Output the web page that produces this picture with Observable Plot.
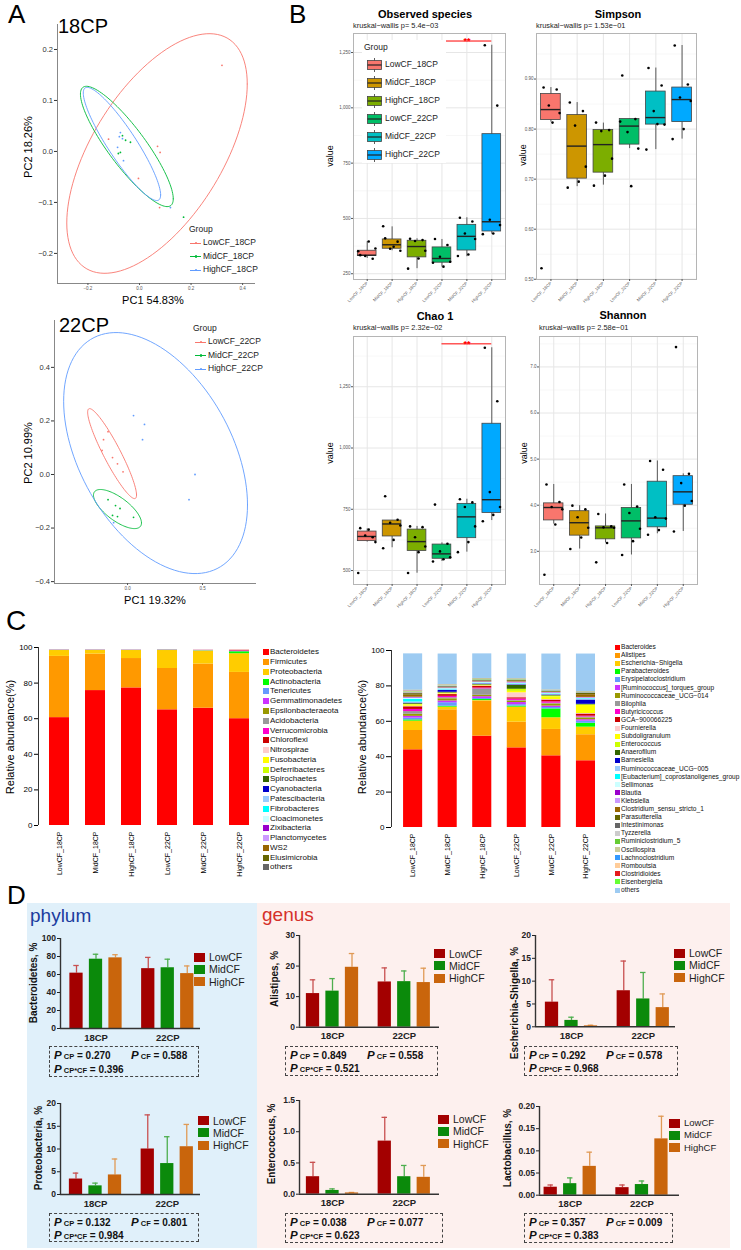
<!DOCTYPE html>
<html><head><meta charset="utf-8">
<script src="https://cdn.jsdelivr.net/npm/d3@7"></script>
<script src="https://cdn.jsdelivr.net/npm/@observablehq/plot@0.6"></script>
<style>
body{margin:0;background:#fff;}
#fig{position:relative;width:741px;height:1250px;overflow:hidden;background:#fff;font-family:'Liberation Sans',Arial,Helvetica,sans-serif;}
.t{position:absolute;white-space:nowrap;line-height:1.15;}
</style></head><body><div id="fig"></div>
<script>
// ================= DATA =================
// Panel A – PCoA
const pcaGroups18 = ["LowCF_18CP","MidCF_18CP","HighCF_18CP"];
const pcaGroups22 = ["LowCF_22CP","MidCF_22CP","HighCF_22CP"];
const pcaColors = ["#F8766D","#00BA38","#619CFF"];
const pca18X = [0.32,0.07,0.08,-0.004,0.078,-0.12, -0.066,-0.054,-0.035,-0.074,-0.082,0.171, -0.074,-0.078,-0.085,-0.062,0.12,-0.066];
const pca18Y = [0.169,0.01,-0.002,-0.053,-0.11,0.024, 0.031,0.022,0.018,-0.002,-0.004,-0.129, 0.037,0.029,0.008,-0.018,-0.11,0.025];
const pca18G = [0,0,0,0,0,0,1,1,1,1,1,1,2,2,2,2,2,2];
const ell18 = {cx:[0.068,-0.049,-0.068], cy:[-0.004,0.0098,0.0147], sx:[0.35,0.18,0.15], sy:[0.235,0.118,0.111], rho:[0.58,-0.87,-0.9]};
const pca22X = [-0.13,-0.16,-0.17,-0.1,-0.067,-0.03, -0.13,-0.08,-0.05,-0.1,-0.067,0.04, 0.04,0.113,0.1,0.45,0.41,-0.093];
const pca22Y = [0.16,0.13,0.09,0.063,0.04,0.01, -0.094,-0.116,-0.127,-0.153,-0.157,-0.16, 0.22,0.187,0.13,0.0,-0.094,-0.18];
const pca22G = [0,0,0,0,0,0,1,1,1,1,1,1,2,2,2,2,2,2];
const ell22 = {cx:[-0.103,-0.067,0.187], cy:[0.078,-0.129,0.08], sx:[0.163,0.16,0.613], sy:[0.168,0.073,0.45], rho:[-0.92,-0.71,-0.43]};

// Panel B – alpha diversity
const groupsB = ["LowCF_18CP","MidCF_18CP","HighCF_18CP","LowCF_22CP","MidCF_22CP","HighCF_22CP"];
const colorsB = ["#F8766D","#CD9600","#7CAE00","#00BE67","#00BFC4","#00A9FF"];
const obsQ1 = [330,363,324,300,355,441], obsMed = [334,381,373,319,419,485], obsQ3 = [354,405,399,369,471,881];
const obsLo = [319,354,273,280,327,429], obsHi = [395,462,408,405,503,1283];
const obsPts = [[334,318,330,364,396,352],[410,395,363,354,372,465],[408,402,398,354,319,273],[407,380,327,304,282,300],[503,486,432,407,337,330],[1283,1010,494,470,432,429]];
const simQ1 = [0.818,0.701,0.713,0.769,0.809,0.814], simMed = [0.839,0.766,0.769,0.806,0.823,0.859], simQ3 = [0.870,0.828,0.798,0.820,0.875,0.883];
const simLo = [0.814,0.685,0.688,0.761,0.759,0.780], simHi = [0.883,0.853,0.812,0.820,0.922,0.967];
const simPts = [[0.883,0.879,0.847,0.832,0.813,0.522],[0.853,0.836,0.807,0.725,0.695,0.683],[0.813,0.798,0.796,0.741,0.707,0.687],[0.907,0.820,0.794,0.761,0.686,0.815],[0.922,0.887,0.836,0.809,0.810,0.759],[0.967,0.889,0.863,0.856,0.800,0.780]];
const chaoQ1 = [620,639,580,548,632,735], chaoMed = [639,690,618,568,719,789], chaoQ3 = [659,704,667,606,772,1099];
const chaoLo = [616,593,489,537,575,704], chaoHi = [670,704,680,613,791,1409];
const chaoPts = [[673,636,643,616,667,490],[803,707,695,684,625,591],[680,677,636,598,575,490],[769,609,578,554,546,537],[791,778,759,680,616,575],[1409,1191,820,759,727,701]];
const shQ1 = [3.67,3.34,3.26,3.28,3.52,4.01], shMed = [3.95,3.62,3.51,3.66,3.72,4.29], shQ3 = [4.04,3.87,3.54,3.94,4.51,4.63];
const shLo = [3.59,3.05,3.18,2.92,3.38,3.43], shHi = [4.45,3.99,3.81,4.45,4.96,4.68];
const shPts = [[4.45,4.07,3.96,3.91,3.58,2.49],[3.99,3.91,3.74,3.51,3.30,3.05],[3.81,3.54,3.52,3.51,3.18,2.76],[4.45,3.97,3.83,3.49,3.22,2.92],[4.96,4.77,3.74,3.71,3.46,3.36],[7.43,4.68,4.48,4.09,3.99,3.43]];
const obsSig = {from:4, to:6, y:1302, label:"**"};
const chaoSig = {from:4, to:6, y:1425, label:"**"};

// Panel C – relative abundance
const phylumTaxa = ["Bacteroidetes","Firmicutes","Proteobacteria","Actinobacteria","Tenericutes","Gemmatimonadetes","Epsilonbacteraeota","Acidobacteria","Verrucomicrobia","Chloroflexi","Nitrospirae","Fusobacteria","Deferribacteres","Spirochaetes","Cyanobacteria","Patescibacteria","Fibrobacteres","Cloacimonetes","Zixibacteria","Planctomycetes","WS2","Elusimicrobia","others"];
const phylumColors = ["#FF0000","#FF9900","#FFCC00","#00FF00","#6699FF","#CC33FF","#999900","#999999","#FF00CC","#CC0000","#FFCCCC","#FFFF00","#CCFF00","#336600","#0000CC","#99CCFF","#00FFFF","#CCFFFF","#9900CC","#CC99FF","#996600","#666600","#666666"];
const phylumAbund = [
 [60.6,75.8,77.3,65.0,65.9,60.0],[34.4,20.5,16.5,23.2,24.8,26.0],[3.3,2.0,4.5,10.1,7.3,10.5],[0.05,0.05,0.05,0.1,0.1,1.1],
 [0.1,0.1,0.1,0.1,0.1,0.1],[0,0,0,0,0,0.05],[0,0,0,0,0,0],[0.1,0.1,0.05,0.1,0.2,0.1],[0.05,0.05,0.05,0.05,0.05,0.3],[0.05,0.05,0.05,0.05,0.05,0.3],
 [0,0,0,0,0,0],[0,0,0,0,0,0],[0,0,0,0,0,0],[0,0,0,0,0,0],[0,0,0,0,0,0],[0,0,0,0,0,0],[0,0,0,0,0,0],[0,0,0,0,0,0],[0,0,0,0,0,0],[0,0,0,0,0,0],[0,0,0,0,0,0],[0,0,0,0,0,0],[0,0,0,0,0,0]];
const genusTaxa = ["Bacteroides","Alistipes","Escherichia−Shigella","Parabacteroides","Erysipelatoclostridium","[Ruminococcus]_torques_group","Ruminococcaceae_UCG−014","Bilophila","Butyricicoccus","GCA−900066225","Fournierella","Subdoligranulum","Enterococcus","Anaerofilum","Barnesiella","Ruminococcaceae_UCG−005","[Eubacterium]_coprostanoligenes_group","Sellimonas","Blautia","Klebsiella","Clostridium_sensu_stricto_1","Parasutterella","Intestinimonas","Tyzzerella","Ruminiclostridium_5","Oscillospira","Lachnoclostridium","Romboutsia","Clostridioides","Eisenbergiella","others"];
const genusColors = ["#FF0000","#FF9900","#FFCC00","#00FF00","#6699FF","#CC33FF","#999900","#999999","#FF00CC","#CC0000","#FFCCCC","#FFFF00","#CCFF00","#336600","#0000CC","#99CCFF","#00FFFF","#CCFFFF","#9900CC","#CC99FF","#996600","#666600","#666666","#CCCCCC","#66CC33","#CCCC99","#3399FF","#FFCC99","#E41A1C","#66FF33","#9DCBF2"];
const genusAbund = [
 [43.9,54.8,51.6,45.0,40.5,37.7],[10.9,11.7,19.8,14.5,14.9,14.7],[5.3,1.5,0.3,8.5,6.6,4.3],[0.7,0.5,0.6,0.6,5.0,2.2],
 [1.0,2.0,0.6,0.8,0.8,1.2],[1.0,1.0,1.0,1.2,0.8,0.8],[1.2,1.2,0.8,0.8,1.2,1.0],[1.5,0.6,3.6,0.4,0.4,0.5],
 [1.2,0.8,0.5,0.8,0.8,0.5],[1.5,1.0,1.0,0.7,1.0,1.2],[0.3,0.3,0.2,2.8,0.3,0.3],[0.8,0.5,0.3,0.8,1.5,4.5],
 [0.3,0.1,0.2,1.2,0.5,0.4],[0.4,0.4,0.3,2.2,0.3,0.3],[0.3,1.0,0.3,0.3,0.3,2.4],[0.6,0.4,0.3,0.3,0.3,0.5],
 [1.5,0.4,0.2,0.3,0.3,0.3],[0.6,0.3,0.3,0.2,0.2,0.2],[0.3,0.2,0.2,0.2,0.2,0.2],[0.3,0.2,0.2,0.6,0.3,0.3],
 [1.2,0.2,0.3,0.4,0.3,1.5],[0.8,0.3,0.3,0.4,0.3,0.7],[0.4,0.3,0.3,0.2,0.2,0.3],[0.3,0.3,0.2,0.2,0.1,0.2],
 [0.3,0.1,0.3,0.2,0.1,0.1],[0.3,0.1,0.1,0.1,0.1,0.1],[0.2,0.1,0.1,0.1,0.1,0.1],[0.2,0.2,0.1,0.1,0.1,0.1],
 [0.2,0.1,0.1,0.1,0.1,0.1],[0.1,0.1,0.1,0.1,0.1,0.1],[20.5,17.3,13.9,13.9,20.3,21.2]];

// Panel D – mean ± SD
const cfNames = ["LowCF","MidCF","HighCF"];
const cpNames = ["18CP","22CP"];
const cfColors = ["#A30000","#0B8A0B","#C9650C"];
const cfErrColors = ["#C85050","#4EAE4E","#E09A55"];
const bactMean = [61.5,77,78.5,66.5,67.5,61], bactSD = [8.5,5.5,3.5,12.5,9.5,8.5], bactP = [0.270,0.588,0.396];
const proteoMean = [3.4,1.9,4.3,10,6.8,10.5], proteoSD = [1.3,0.6,3.5,7.5,5.9,4.9], proteoP = [0.132,0.801,0.984];
const alistMean = [11,11.8,19.6,14.8,14.9,14.6], alistSD = [4.5,4.1,4.5,4.6,3.5,4.7], alistP = [0.849,0.558,0.521];
const eschMean = [5.4,1.4,0.2,7.9,6.1,4.2], eschSD = [4.9,0.7,0.15,6.5,5.8,3.0], eschP = [0.292,0.578,0.968];
const entMean = [0.28,0.06,0.02,0.85,0.28,0.27], entSD = [0.23,0.025,0.008,0.38,0.18,0.19], entP = [0.038,0.077,0.623];
const lactMean = [0.018,0.026,0.065,0.017,0.024,0.127], lactSD = [0.005,0.013,0.032,0.006,0.008,0.051], lactP = [0.357,0.009,0.383];

// ================= HELPERS =================
const fig = document.getElementById("fig");
const FONT = "'Liberation Sans', Arial, Helvetica, sans-serif";
function T(x, y, s, o = {}) {
  const d = document.createElement("div");
  d.className = "t";
  if (o.html) d.innerHTML = s; else d.textContent = s;
  const a = o.anchor || "start";
  const tx = a === "start" ? "0" : a === "middle" ? "-50%" : "-100%";
  d.style.left = x + "px"; d.style.top = y + "px";
  d.style.fontSize = (o.size || 10) + "px";
  d.style.fontWeight = o.weight || "normal";
  d.style.color = o.color || "#000";
  if (o.italic) d.style.fontStyle = "italic";
  d.style.transform = `translate(${tx},-50%)` + (o.rot ? ` rotate(${o.rot}deg)` : "");
  fig.appendChild(d); return d;
}
function box(x, y, w, h, css) {
  const d = document.createElement("div");
  d.style.cssText = `position:absolute;left:${x}px;top:${y}px;width:${w}px;height:${h}px;` + css;
  fig.appendChild(d); return d;
}
function P(frame, pad, opts, extraStyle = "") {
  const [x0, y0, x1, y1] = frame, [pt, pr, pb, pl] = pad;
  const svg = Plot.plot({
    width: x1 - x0 + pl + pr, height: y1 - y0 + pt + pb,
    marginTop: pt, marginRight: pr, marginBottom: pb, marginLeft: pl,
    style: `position:absolute;left:${x0 - pl}px;top:${y0 - pt}px;background:transparent;overflow:visible;font-family:${FONT};max-width:none;` + extraStyle,
    ...opts
  });
  fig.appendChild(svg);
  return svg;
}

// backgrounds for panel D
box(27, 903, 230, 345, "background:#E0F0FA;");
box(257, 903, 473, 345, "background:#FDF0EE;");

// ================= PANEL A =================
function ellipse(e, k) {
  return d3.range(0, 121).map(i => {
    const t = i / 120 * 2 * Math.PI;
    return {x: e.cx[k] + e.sx[k] * Math.cos(t), y: e.cy[k] + e.sy[k] * (e.rho[k] * Math.cos(t) + Math.sqrt(1 - e.rho[k] ** 2) * Math.sin(t)), c: pcaColors[k], k};
  });
}
function pca(frame, xdom, ydom, X, Y, G, ell, xt, yt) {
  const pts = X.map((x, i) => ({x, y: Y[i], c: pcaColors[G[i]]}));
  const ells = [0, 1, 2].flatMap(k => ellipse(ell, k));
  P(frame, [6, 6, 14, 32], {
    x: {domain: xdom, axis: null}, y: {domain: ydom, axis: null}, color: {type: "identity"},
    marks: [
      Plot.line(ells, {x: "x", y: "y", z: "k", stroke: "c", strokeWidth: 0.9}),
      Plot.dot(pts, {x: "x", y: "y", r: 0.9, fill: "c"}),
      Plot.ruleX([xdom[0]], {stroke: "#888", strokeWidth: 1}),
      Plot.ruleY([ydom[0]], {stroke: "#888", strokeWidth: 1}),
      Plot.axisY({ticks: yt, tickFormat: d3.format(".1f"), tickSize: 3, tickPadding: 1.5, fontSize: 7.5, color: "#333", label: null}),
      Plot.axisX({ticks: xt, tickFormat: d3.format(".1f"), tickSize: 2, tickPadding: 1, fontSize: 4.5, color: "#555", label: null})
    ]
  });
}
pca([57, 24, 255, 283], [-0.318, 0.45], [-0.259, 0.249], pca18X, pca18Y, pca18G, ell18, [-0.2, 0, 0.2, 0.4], [-0.2, -0.1, 0, 0.1, 0.2]);
pca([54, 320, 256, 583], [-0.487, 0.86], [-0.407, 0.575], pca22X, pca22Y, pca22G, ell22, [0, 0.5], [-0.4, -0.2, 0, 0.2, 0.4]);

T(8, 15, "A", {size: 26});
T(58, 26, "18CP", {size: 20});
T(59, 325, "22CP", {size: 20});
T(28, 147, "PC2 18.26%", {size: 11, anchor: "middle", rot: -90});
T(153, 300, "PC1 54.83%", {size: 11, anchor: "middle"});
T(28, 453, "PC2 10.99%", {size: 11, anchor: "middle", rot: -90});
T(155, 600, "PC1 19.32%", {size: 11, anchor: "middle"});
function pcaLegend(x, y, groups, lineX) {
  T(x, y, "Group", {size: 8.5, color: "#222"});
  groups.forEach((g, k) => {
    const yy = y + 13 + k * 13.5;
    box(lineX, yy - 0.5, 11, 1, `background:${pcaColors[k]};`);
    box(lineX + 4.5, yy - 1.5, 2.5, 2.5, `background:${pcaColors[k]};border-radius:1px;`);
    T(lineX + 13, yy, g, {size: 8.5, color: "#222"});
  });
}
pcaLegend(189, 230, pcaGroups18, 190);
pcaLegend(193, 329, pcaGroups22, 195);

// ================= PANEL B =================
const jitterB = [-0.28, 0.22, -0.08, 0.33, 0.06, -0.36];
function boxChart(frame, dom, Q1, MED, Q3, LO, HI, PTS, major, minor, sig) {
  const rows = groupsB.map((g, i) => ({i: i + 1, color: colorsB[i], q1: Q1[i], med: MED[i], q3: Q3[i], lo: LO[i], hi: HI[i]}));
  const pts = PTS.flatMap((arr, i) => arr.map((v, j) => ({x: i + 1 + jitterB[j], v})));
  const marks = [
    Plot.gridY(minor, {stroke: "#EEEEEE", strokeOpacity: 1, strokeWidth: 0.5}),
    Plot.gridY(major, {stroke: "#E6E6E6", strokeOpacity: 1, strokeWidth: 1}),
    Plot.gridX([1, 2, 3, 4, 5, 6], {stroke: "#E6E6E6", strokeOpacity: 1, strokeWidth: 1}),
    Plot.ruleX(rows, {x: "i", y1: "lo", y2: "hi", stroke: "#333", strokeWidth: 0.8}),
    Plot.rect(rows, {x1: d => d.i - 0.375, x2: d => d.i + 0.375, y1: "q1", y2: "q3", fill: "color", stroke: "#444", strokeWidth: 0.8}),
    Plot.ruleY(rows, {y: "med", x1: d => d.i - 0.375, x2: d => d.i + 0.375, stroke: "#222", strokeWidth: 1.4}),
    Plot.dot(pts, {x: "x", y: "v", r: 1.3, fill: "#000"}),
    Plot.frame({stroke: "#B5B5B5"}),
    Plot.axisY({ticks: major, tickSize: 2, tickPadding: 1, fontSize: 4.5, color: "#555", label: null}),
    Plot.axisX({ticks: [1, 2, 3, 4, 5, 6], tickFormat: i => groupsB[i - 1], tickRotate: -45, tickSize: 2, tickPadding: 1, fontSize: 4.3, color: "#555", label: null})
  ];
  if (sig) {
    marks.push(Plot.ruleY([sig], {y: "y", x1: "from", x2: "to", stroke: "#FF0000", strokeWidth: 1}));
    marks.push(Plot.text([sig], {x: d => (d.from + d.to) / 2, y: "y", text: "label", fill: "#FF0000", fontSize: 9, fontWeight: "bold"}));
  }
  P(frame, [4, 4, 30, 22], {x: {domain: [0.45, 6.55], axis: null}, y: {domain: dom, axis: null}, color: {type: "identity"}, marks});
}
boxChart([353, 33, 505, 279], [224, 1336], obsQ1, obsMed, obsQ3, obsLo, obsHi, obsPts, [250, 500, 750, 1000, 1250], [375, 625, 875, 1125], obsSig);
boxChart([536, 33, 696, 279], [0.4995, 0.991], simQ1, simMed, simQ3, simLo, simHi, simPts, [0.5, 0.6, 0.7, 0.8, 0.9], [0.55, 0.65, 0.75, 0.85, 0.95], null);
boxChart([353, 336, 505, 584], [443, 1455], chaoQ1, chaoMed, chaoQ3, chaoLo, chaoHi, chaoPts, [500, 750, 1000, 1250], [625, 875, 1125, 1375], chaoSig);
boxChart([539, 336, 697, 584], [2.28, 7.66], shQ1, shMed, shQ3, shLo, shHi, shPts, [3, 4, 5, 6, 7], [2.5, 3.5, 4.5, 5.5, 6.5, 7.5], null);

T(289, 15, "B", {size: 26});
T(425, 14, "Observed species", {size: 11, weight: "bold", anchor: "middle"});
T(353, 26, "kruskal−wallis  p= 5.4e−03", {size: 7.4, color: "#222"});
T(618, 14, "Simpson", {size: 11, weight: "bold", anchor: "middle"});
T(536, 26, "kruskal−wallis  p= 1.53e−01", {size: 7.4, color: "#222"});
T(435, 316, "Chao 1", {size: 11, weight: "bold", anchor: "middle"});
T(353, 328, "kruskal−wallis  p= 2.32e−02", {size: 7.4, color: "#222"});
T(623, 315, "Shannon", {size: 11, weight: "bold", anchor: "middle"});
T(539, 328, "kruskal−wallis  p= 2.58e−01", {size: 7.4, color: "#222"});
T(330, 156, "value", {size: 9, anchor: "middle", rot: -90});
T(523, 155, "value", {size: 9, anchor: "middle", rot: -90});
T(330, 453, "value", {size: 9, anchor: "middle", rot: -90});
T(524, 453, "value", {size: 9, anchor: "middle", rot: -90});
// legend B
box(362, 40, 84, 123, "background:#fff;");
T(364, 48, "Group", {size: 8.5, color: "#222"});
groupsB.forEach((g, k) => {
  const yc = 64.5 + k * 18;
  const d = box(367, yc - 7, 15, 14, "");
  d.innerHTML = `<svg width="15" height="14" style="display:block"><line x1="7.5" y1="0" x2="7.5" y2="14" stroke="#333" stroke-width="0.8"/><rect x="0.5" y="2.5" width="14" height="9" fill="${colorsB[k]}" stroke="#444" stroke-width="0.8"/><line x1="0.5" y1="7" x2="14.5" y2="7" stroke="#222" stroke-width="1.2"/></svg>`;
  T(385, yc, g, {size: 8.5, color: "#222"});
});

// ================= PANEL C =================
function stackChart(frame, xdom, taxa, colors, table, halfW, tickSize) {
  const rows = [];
  for (let s = 0; s < 6; s++) {
    let cum = 0;
    taxa.forEach((t, k) => { const v = table[k][s]; rows.push({i: s + 1, y1: cum, y2: cum + v, fill: colors[k]}); cum += v; });
  }
  P(frame, [6, 6, 52, 36], {
    x: {domain: xdom, axis: null}, y: {domain: [0, 100], axis: null}, color: {type: "identity"},
    marks: [
      Plot.rect(rows.filter(d => d.y2 > d.y1), {x1: d => d.i - halfW, x2: d => d.i + halfW, y1: "y1", y2: "y2", fill: "fill"}),
      Plot.ruleX([xdom[0]], {y1: 0, y2: 100, stroke: "#000", strokeWidth: 0.8}),
      Plot.axisY({ticks: [0, 20, 40, 60, 80, 100], tickSize, tickPadding: 2, fontSize: 8, color: "#000", label: null}),
      Plot.axisX({ticks: [1, 2, 3, 4, 5, 6], tickFormat: i => groupsB[i - 1], tickRotate: -90, tickSize: 0, tickPadding: 6, fontSize: 7, color: "#000", label: null})
    ]
  });
}
stackChart([38, 647, 258, 825], [0.4167, 6.5278], phylumTaxa, phylumColors, phylumAbund, 0.2778, 4);
stackChart([391, 650, 605, 827], [0.375, 6.565], genusTaxa, genusColors, genusAbund, 0.276, 5);
T(6, 621, "C", {size: 28});
T(10, 737, "Relative abundance(%)", {size: 11, anchor: "middle", rot: -90});
T(362, 737, "Relative abundance(%)", {size: 11, anchor: "middle", rot: -90});
phylumTaxa.forEach((t, k) => {
  const y = 652.3 + k * 9.78;
  box(263, y - 3, 6, 6, `background:${phylumColors[k]};`);
  T(270, y, t, {size: 8, color: "#111"});
});
genusTaxa.forEach((t, k) => {
  const y = 647 + k * 8.1;
  box(615, y - 2.5, 5, 5, `background:${genusColors[k]};`);
  T(621, y, t, {size: 6.6, color: "#111"});
});

// ================= PANEL D =================
T(7, 896, "D", {size: 26});
T(30, 916, "phylum", {size: 19, color: "#1B3C9E"});
T(262, 915, "genus", {size: 19, color: "#D5302A"});
function dChart(c) {
  const s = 19.5, G = 3.68;
  const xd = [(c.ax - c.first) / s, (c.ax + 140 - c.first) / s];
  const rows = c.mean.map((m, i) => ({k: i % 3, p: Math.floor(i / 3) * G + (i % 3), m, e: m + c.sd[i]}));
  rows.forEach(r => { r.fill = cfColors[r.k]; r.err = cfErrColors[r.k]; });
  P([c.ax, c.top, c.ax + 140, c.bottom], [4, 4, 18, 32], {
    x: {domain: xd, axis: null}, y: {domain: [0, c.ymax], axis: null}, color: {type: "identity"},
    marks: [
      Plot.ruleX(rows, {x: "p", y1: "m", y2: "e", stroke: "err", strokeWidth: 1.3}),
      Plot.ruleY(rows, {y: "e", x1: d => d.p - 0.14, x2: d => d.p + 0.14, stroke: "err", strokeWidth: 1.3}),
      Plot.rect(rows, {x1: d => d.p - 0.34, x2: d => d.p + 0.34, y1: 0, y2: "m", fill: "fill"}),
      Plot.ruleX([xd[0]], {stroke: "#333", strokeWidth: 1.4}),
      Plot.ruleY([0], {stroke: "#333", strokeWidth: 1.4}),
      Plot.axisY({ticks: c.ticks, tickFormat: c.fmt, tickSize: 3, tickPadding: 1.5, fontSize: 8.5, color: "#222", label: null}),
      Plot.axisX({ticks: [1, G + 1], tickFormat: d => cpNames[d < 2 ? 0 : 1], tickSize: 0, tickPadding: 5.5, fontSize: 9.5, color: "#222", label: null})
    ]
  }, "font-weight:bold;");
  T(c.titleX, c.titleY, c.title, {size: 10, weight: "bold", anchor: "middle", rot: -90, color: "#111"});
  cfNames.forEach((n, k) => {
    const y = c.legY + k * 12.3;
    box(c.legX, y - 4.5, 11, 9, `background:${cfColors[k]};`);
    T(c.legX + 15, y, n, {size: c.legSize || 10.5, color: "#222"});
  });
  const [bx0, by0, bx1, by1] = c.pbox;
  box(bx0, by0, bx1 - bx0, by1 - by0, "border:1.2px dashed #444;box-sizing:border-box;");
  const f = d3.format(".3f");
  const seg = (lab, v) => `<i style="font-size:11.5px">P</i><span style="font-size:7.5px"> ${lab}</span> = ${f(v)}`;
  const l1 = by0 + (by1 - by0) * 0.33, l2 = by0 + (by1 - by0) * 0.78;
  T(bx0 + 5, l1, seg("CP", c.pv[0]), {html: true, size: 10, weight: "bold", color: "#111"});
  T(bx0 + 82, l1, seg("CF", c.pv[1]), {html: true, size: 10, weight: "bold", color: "#111"});
  T(bx0 + 5, l2, seg("CP*CF", c.pv[2]), {html: true, size: 10, weight: "bold", color: "#111"});
}
dChart({ax: 59.5, first: 75.5, top: 938, bottom: 1028, ymax: 100, ticks: [0, 20, 40, 60, 80, 100], fmt: d3.format("d"), mean: bactMean, sd: bactSD,
  title: "Bacteroidetes, %", titleX: 34, titleY: 983, legX: 194, legY: 957, pbox: [49, 1046, 199, 1077], pv: bactP});
dChart({ax: 59.5, first: 75, top: 1102.7, bottom: 1193.7, ymax: 20, ticks: [0, 5, 10, 15, 20], fmt: d3.format("d"), mean: proteoMean, sd: proteoSD,
  title: "Proteobacteria, %", titleX: 39, titleY: 1148, legX: 198, legY: 1120.5, pbox: [49, 1213, 199, 1242], pv: proteoP});
dChart({ax: 299, first: 312.5, top: 935, bottom: 1026.7, ymax: 30, ticks: [0, 10, 20, 30], fmt: d3.format("d"), mean: alistMean, sd: alistSD,
  title: "Alistipes, %", titleX: 275, titleY: 979, legX: 434, legY: 953.5, pbox: [285, 1046, 438, 1076], pv: alistP});
dChart({ax: 535, first: 551.5, top: 935, bottom: 1026.3, ymax: 20, ticks: [0, 5, 10, 15, 20], fmt: d3.format("d"), mean: eschMean, sd: eschSD,
  title: "Escherichia-Shigella, %", titleX: 515, titleY: 1003, legX: 674, legY: 953, pbox: [524, 1046, 678, 1076], pv: eschP});
dChart({ax: 299, first: 312.5, top: 1100.3, bottom: 1194, ymax: 1.5, ticks: [0, 0.5, 1, 1.5], fmt: d3.format(".1f"), mean: entMean, sd: entSD,
  title: "Enterococcus, %", titleX: 272, titleY: 1144, legX: 438, legY: 1119, pbox: [285, 1213, 443, 1243], pv: entP});
dChart({ax: 539.3, first: 550.5, top: 1106, bottom: 1194.7, ymax: 0.2, ticks: [0, 0.05, 0.1, 0.15, 0.2], fmt: d3.format(".2f"), mean: lactMean, sd: lactSD,
  title: "Lactobacillus, %", titleX: 508, titleY: 1148, legX: 669, legY: 1123, legSize: 9.5, pbox: [524, 1213, 673, 1243], pv: lactP});
</script></body></html>
